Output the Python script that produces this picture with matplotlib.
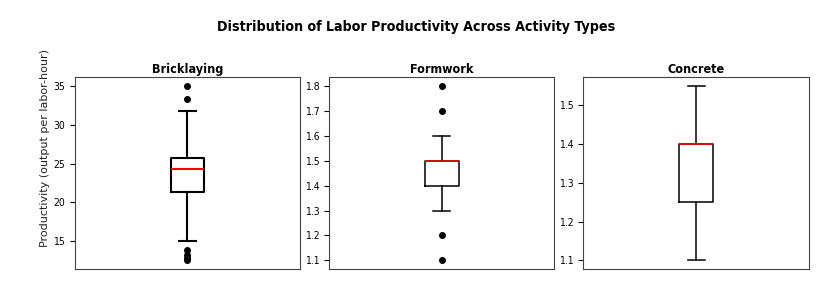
import matplotlib
matplotlib.use('Agg')
import matplotlib.pyplot as plt

activities = ['Bricklaying', 'Formwork', 'Concrete']
# box stats: whisker low, q1, median, q3, whisker high
whislo = [15.0, 1.3, 1.1]
q1 = [21.35, 1.4, 1.25]
med = [24.25, 1.5, 1.4]
q3 = [25.7, 1.5, 1.4]
whishi = [31.7, 1.6, 1.55]
fliers = [[35.0, 33.25, 13.9, 13.3, 12.9, 12.55], [1.8, 1.7, 1.2, 1.1], []]

plt.rcParams['font.family'] = ['DejaVu Sans']
plt.rcParams['font.stretch'] = 'condensed'

fig, axes = plt.subplots(1, 3, figsize=(8.32, 3.0), dpi=100)
fig.subplots_adjust(left=0.090, right=0.972, top=0.743, bottom=0.103, wspace=0.129)

for i, ax in enumerate(axes):
    stats = [{'whislo': whislo[i], 'q1': q1[i], 'med': med[i], 'q3': q3[i],
              'whishi': whishi[i], 'fliers': fliers[i]}]
    lw = 1.5 if i == 0 else 1.1
    ax.bxp(stats, positions=[1], widths=0.15, showfliers=True,
           boxprops=dict(color='black', linewidth=lw),
           whiskerprops=dict(color='black', linewidth=lw),
           capprops=dict(color='black', linewidth=lw),
           medianprops=dict(color='red', linewidth=lw),
           flierprops=dict(marker='o', markerfacecolor='black', markeredgecolor='black', markersize=4))
    ax.set_xlim(0.5, 1.5)
    ax.set_xticks([])
    ax.set_title(activities[i], fontsize=9, fontweight='bold', pad=3)
    ax.tick_params(axis='y', labelsize=7.5)
    for s in ax.spines.values():
        s.set_color('#444444')

# shared y label sits at figure middle, not axes middle
fig.text(0.054, 0.508, 'Productivity (output per labor-hour)', rotation=90,
         ha='center', va='center', fontsize=8, fontstretch='normal', color='#222222')
fig.suptitle('Distribution of Labor Productivity Across Activity Types', fontsize=10.2, fontweight='bold', y=0.935)

plt.savefig('out.png', dpi=100)
